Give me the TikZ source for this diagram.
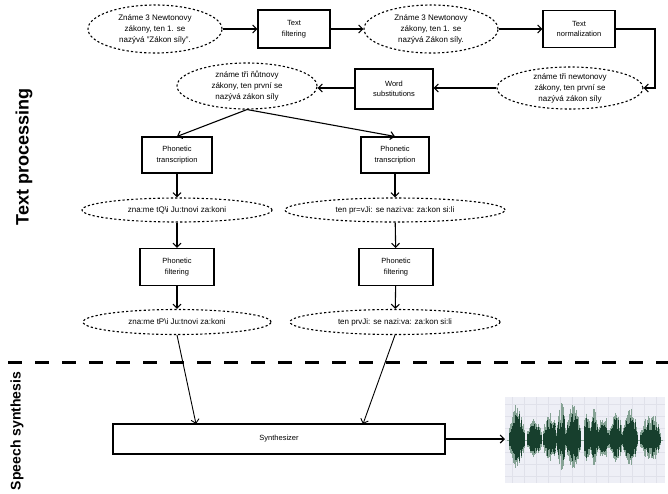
\documentclass[tikz,border=0pt]{standalone}
\usepackage{fontspec}
\setmainfont{Liberation Sans}
\usetikzlibrary{shapes.geometric,arrows.meta}
\definecolor{waved}{HTML}{173F2D}
\definecolor{wavel}{HTML}{86A395}
\definecolor{wavebg}{HTML}{EEEFF6}
\definecolor{gridc}{HTML}{E0E1EA}
\begin{document}
\begin{tikzpicture}[x=1pt,y=-1pt,
  box/.style={draw,line width=1.1pt,inner sep=0pt,align=center,font=\fontsize{7.5}{10.5}\selectfont},
  oval/.style={ellipse,draw,line width=1.1pt,dash pattern=on 2.2pt off 2.2pt,inner sep=0pt,align=center,font=\fontsize{8}{11}\selectfont},
  conn/.style={line width=1.1pt,-{Straight Barb[length=4pt,width=8pt]}},
  thinconn/.style={line width=0.9pt,-{Straight Barb[length=4pt,width=8pt]}},
  sidelabel/.style={rotate=90,font=\bfseries\fontsize{#1}{#1}\selectfont},
]
\useasboundingbox (0,0) rectangle (668,493);

% top row
\node[oval,minimum width=134pt,minimum height=48pt] (e1) at (155,29) {Známe 3 Newtonovy\\zákony, ten 1. se\\nazývá "Zákon síly".};
\node[box,minimum width=72pt,minimum height=38pt] (tf) at (294,29) {Text\\filtering};
\node[oval,minimum width=134pt,minimum height=48pt] (e2) at (431,29) {Známe 3 Newtonovy\\zákony, ten 1. se\\nazývá Zákon síly.};
\node[box,minimum width=72pt,minimum height=37pt] (tn) at (579,29) {Text\\normalization};

% second row
\node[oval,minimum width=146pt,minimum height=42pt] (e3) at (570,88) {známe tři newtonovy\\zákony, ten první se\\nazývá zákon síly};
\node[box,minimum width=78pt,minimum height=40pt] (ws) at (394,89) {Word\\substitutions};
\node[oval,minimum width=140pt,minimum height=46pt] (e4) at (247,86) {známe tři ňůtnovy\\zákony, ten první se\\nazývá zákon síly};

% left branch
\node[box,minimum width=70pt,minimum height=36pt] (pt1) at (177,155) {Phonetic\\transcription};
\node[oval,minimum width=190pt,minimum height=24pt] (e5) at (177,210) {zna:me tQ\textbackslash{}i Ju:tnovi za:koni};
\node[box,minimum width=74pt,minimum height=37pt] (pf1) at (177,267) {Phonetic\\filtering};
\node[oval,minimum width=188pt,minimum height=25pt] (e7) at (177,322) {zna:me tP\textbackslash{}i Ju:tnovi za:koni};

% right branch
\node[box,minimum width=68pt,minimum height=36pt] (pt2) at (395,155) {Phonetic\\transcription};
\node[oval,minimum width=220pt,minimum height=24pt] (e6) at (395,210) {ten pr=vJi: se nazi:va: za:kon si:li};
\node[box,minimum width=74pt,minimum height=37pt] (pf2) at (396,267) {Phonetic\\filtering};
\node[oval,minimum width=210pt,minimum height=25pt] (e8) at (395,322) {ten prvJi: se nazi:va: za:kon si:li};

% synthesizer
\node[box,minimum width=332pt,minimum height=30pt] (synth) at (279,439) {Synthesizer};

% connectors
\draw[conn] (e1) -- (tf);
\draw[conn] (tf) -- (e2);
\draw[conn] (e2) -- (tn);
\coordinate (c1) at (655,29);
\coordinate (c2) at (655,88);
\draw[conn] (tn.east) -- (c1) -- (c2) -- (e3.east);
\draw[conn] (e3.west) -- (ws.east |- e3.west);
\draw[conn] (ws.west |- e3.west) -- (e4.east |- e3.west);
\draw[conn] (e4.south) -- (pt1.north);
\draw[conn] (e4.south) -- (pt2.north);
\draw[conn] (pt1) -- (e5);
\draw[conn] (e5) -- (pf1);
\draw[conn] (pf1) -- (e7);
\draw[conn] (pt2) -- (e6);
\draw[conn] (e6) -- (pf2);
\draw[conn] (pf2) -- (e8);
\coordinate (s1) at (196,424);
\coordinate (s2) at (363,424);
\draw[thinconn] (e7.south) -- (s1);
\draw[thinconn] (e8.south) -- (s2);
\coordinate (wavein) at (505,439);
\draw[conn] (synth.east) -- (wavein);

% separator
\coordinate (sepL) at (8,362);
\coordinate (sepR) at (668,362);
\draw[line width=3pt,dash pattern=on 14pt off 13pt] (sepL) -- (sepR);

% side labels
\node[sidelabel=18] (lab1) at (24,157) {Text processing};
\node[sidelabel=14] (lab2) at (17,431) {Speech synthesis};

% waveform
\fill[wavebg] (505,397) rectangle (665,483);
\foreach \gx in {512,524,...,660} \draw[gridc,line width=0.4pt] (\gx,397) -- (\gx,483);
\foreach \gy in {404,416,...,480} \draw[gridc,line width=0.4pt] (505,\gy) -- (665,\gy);
\draw[wavel,line width=0.6pt] (507,440) -- (663,440);
\pgfmathsetseed{11}
\foreach \s/\e/\a in {509/525/38, 527/542/24, 543/557/30, 557/566/38, 566/581/40, 584/591/34, 591/598/34, 598/609/26, 609/623/30, 623/638/36, 640/661/28}{
  \pgfmathsetmacro\sb{\s+0.8}
  \foreach \x in {\s,\sb,...,\e}{
    \pgfmathsetmacro\env{\a*sqrt(abs(sin(180*(\x-\s)/(\e-\s))))}
    \pgfmathsetmacro\hd{\env*(0.35+0.4*rnd)}
    \pgfmathsetmacro\hl{max(\hd+3,\env*(0.45+0.55*rnd))}
    \draw[wavel,line width=0.8pt] (\x,{440-\hl}) -- (\x,{440+0.8*\hl});
    \draw[waved,line width=0.8pt] (\x,{440-\hd}) -- (\x,{440+0.8*\hd});
  }
}
\end{tikzpicture}
\end{document}
